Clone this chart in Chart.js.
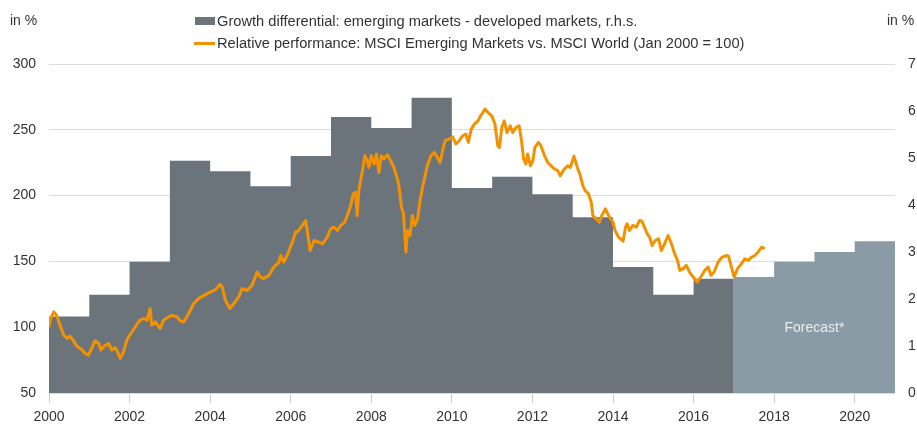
<!DOCTYPE html>
<html>
<head>
<meta charset="utf-8">
<script src="https://cdn.jsdelivr.net/npm/chart.js@4.4.1/dist/chart.umd.min.js"></script>
<style>
  html, body { margin: 0; padding: 0; background: #fff; }
  #wrap { position: relative; width: 917px; height: 426px; overflow: hidden; }
  #c { position: absolute; left: 0; top: 0; }
  .lbl { position: absolute; font-family: "Liberation Sans", Arial, sans-serif; font-size: 14px; color: #333; white-space: nowrap; line-height: 16px; }
  .leg { position: absolute; font-family: "Liberation Sans", Arial, sans-serif; font-size: 14.65px; color: #333; white-space: nowrap; line-height: 16px; }
  .mk { position: absolute; }
</style>
</head>
<body>
<div id="wrap">
  <canvas id="c" width="917" height="426"></canvas>
  <div class="lbl" style="left:10px; top:12px;">in %</div>
  <div class="lbl" style="left:887px; top:12px;">in %</div>
  <div class="mk" style="left:195px; top:17px; width:20px; height:8px; background:#6c747b;"></div>
  <div class="leg" style="left:217px; top:13px;">Growth differential: emerging markets - developed markets, r.h.s.</div>
  <div class="mk" style="left:194px; top:42px; width:21px; height:3px; background:#f39200;"></div>
  <div class="leg" style="left:217px; top:35px;">Relative performance: MSCI Emerging Markets vs. MSCI World (Jan 2000 = 100)</div>
</div>
<script>
// ---- data ----
const growthYears   = [2000,2001,2002,2003,2004,2005,2006,2007,2008,2009,2010,2011,2012,2013,2014,2015,2016];
const growthValues  = [1.63,2.09,2.79,4.94,4.72,4.40,5.04,5.87,5.64,6.28,4.36,4.60,4.23,3.74,2.68,2.09,2.43];
const forecastYears = [2017,2018,2019,2020];
const forecastValues= [2.47,2.79,3.00,3.23];

const perfDates = [
2000.00,2000.04,2000.12,2000.19,2000.26,2000.36,2000.46,2000.52,2000.60,2000.69,
2000.81,2000.90,2000.98,2001.04,2001.14,2001.23,2001.29,2001.37,2001.48,2001.56,
2001.64,2001.70,2001.77,2001.85,2001.93,2002.03,2002.14,2002.26,2002.35,2002.43,
2002.51,2002.55,2002.64,2002.76,2002.84,2002.97,2003.05,2003.18,2003.26,2003.34,
2003.47,2003.59,2003.71,2003.84,2004.00,2004.13,2004.25,2004.30,2004.38,2004.49,
2004.59,2004.71,2004.79,2004.92,2005.04,2005.17,2005.25,2005.33,2005.46,2005.58,
2005.71,2005.75,2005.83,2005.93,2006.04,2006.12,2006.20,2006.29,2006.37,2006.41,
2006.48,2006.58,2006.70,2006.79,2006.91,2006.99,2007.07,2007.16,2007.24,2007.34,
2007.42,2007.49,2007.55,2007.61,2007.65,2007.69,2007.78,2007.84,2007.90,2007.94,
2008.00,2008.07,2008.13,2008.19,2008.25,2008.32,2008.40,2008.48,2008.56,2008.65,
2008.69,2008.75,2008.80,2008.83,2008.86,2008.90,2008.96,2009.02,2009.08,2009.15,
2009.21,2009.29,2009.39,2009.48,2009.56,2009.64,2009.71,2009.77,2009.83,2009.93,
2010.02,2010.10,2010.18,2010.27,2010.35,2010.41,2010.48,2010.56,2010.65,2010.71,
2010.77,2010.82,2010.90,2010.99,2011.07,2011.14,2011.18,2011.24,2011.30,2011.37,
2011.45,2011.51,2011.59,2011.67,2011.73,2011.78,2011.84,2011.88,2011.95,2012.01,
2012.06,2012.15,2012.21,2012.30,2012.38,2012.46,2012.55,2012.63,2012.69,2012.79,
2012.88,2012.94,2013.03,2013.11,2013.19,2013.25,2013.31,2013.39,2013.46,2013.50,
2013.58,2013.66,2013.72,2013.81,2013.87,2013.94,2014.00,2014.05,2014.14,2014.25,
2014.31,2014.35,2014.41,2014.49,2014.58,2014.66,2014.72,2014.78,2014.85,2014.91,
2014.97,2015.05,2015.13,2015.20,2015.28,2015.37,2015.45,2015.53,2015.60,2015.66,
2015.74,2015.82,2015.90,2015.99,2016.09,2016.18,2016.28,2016.36,2016.43,2016.51,
2016.61,2016.71,2016.82,2016.87,2016.94,2017.01,2017.09,2017.19,2017.27,2017.36,
2017.44,2017.52,2017.60,2017.69,2017.77];
const perfValues = [
100.0,106.6,111.6,109.0,102.8,94.0,91.4,93.2,90.0,85.6,
83.0,80.0,78.8,82.6,89.6,88.0,82.6,85.6,87.6,82.6,
84.6,81.3,76.3,81.3,90.0,95.2,100.2,105.3,106.6,105.3,
114.2,101.5,104.0,99.0,105.3,107.8,109.0,107.8,104.8,104.0,
110.4,118.0,121.7,124.0,126.7,128.5,132.6,130.5,120.4,114.2,
118.0,123.0,129.3,128.0,131.8,141.9,138.1,136.9,139.4,145.7,
149.5,154.5,149.5,155.8,164.6,172.2,173.5,177.3,181.1,173.5,
158.3,165.9,164.6,163.4,168.4,174.8,176.0,173.5,177.3,179.8,
186.1,192.4,201.3,202.5,184.8,203.8,218.9,230.3,226.5,221.4,
230.3,224.0,231.6,217.6,230.3,228.0,231.0,226.5,221.4,212.6,
206.3,191.1,186.1,171.0,157.0,173.5,169.7,184.8,177.3,182.3,
196.2,208.9,222.7,230.3,232.8,229.0,225.2,234.1,241.7,242.9,
244.7,239.2,241.7,245.5,246.7,240.4,250.5,254.3,256.8,260.6,
263.1,265.7,263.1,260.6,254.3,237.9,236.6,251.7,256.8,247.9,
253.0,247.9,251.7,253.0,241.7,227.8,224.0,231.6,222.7,226.5,
236.6,240.4,237.9,230.3,225.2,222.7,220.2,218.9,215.0,220.2,
222.7,221.4,230.0,222.0,215.0,207.6,203.8,201.3,194.9,184.8,
182.3,179.8,184.8,189.9,186.1,182.3,179.8,173.5,168.4,165.4,
176.0,178.6,173.5,177.3,176.0,181.1,180.5,176.0,171.0,168.4,
162.1,165.9,167.2,158.3,163.4,169.7,163.4,155.8,150.8,143.2,
144.5,147.0,141.9,138.1,134.3,138.1,143.2,145.7,139.4,141.9,
149.5,153.3,154.5,153.8,145.7,138.1,144.5,148.3,152.0,150.8,
153.3,154.5,157.0,160.8,159.6];

const leftTicks  = [50,100,150,200,250,300];
const rightTicks = [0,1,2,3,4,5,6,7];
const xTickYears = [2000,2002,2004,2006,2008,2010,2012,2014,2016,2018,2020];

// ---- build datasets ----
function steps(years, vals) {
  const pts = years.map((y, i) => ({ x: y, y: vals[i] }));
  pts.push({ x: years[years.length - 1] + 1, y: vals[vals.length - 1] });
  return pts;
}
const perfPts = perfDates.map((d, i) => ({ x: d, y: perfValues[i] }));

const forecastLabel = {
  id: 'forecastLabel',
  afterDatasetsDraw(chart) {
    const { ctx, scales } = chart;
    ctx.save();
    ctx.font = '14px "Liberation Sans", Arial, sans-serif';
    ctx.fillStyle = '#e9edef';
    ctx.textAlign = 'center';
    ctx.textBaseline = 'middle';
    ctx.fillText('Forecast*', scales.x.getPixelForValue(2019), scales.y1.getPixelForValue(1.38));
    ctx.restore();
  }
};

const tickFont = { family: '"Liberation Sans", Arial, sans-serif', size: 14 };

new Chart(document.getElementById('c'), {
  type: 'line',
  data: {
    datasets: [
      { data: perfPts, yAxisID: 'y', borderColor: '#f39200', borderWidth: 3, tension: 0,
        pointRadius: 0, fill: false, borderJoinStyle: 'round', order: 0 },
      { data: steps(growthYears, growthValues), yAxisID: 'y1', stepped: 'before',
        fill: 'origin', backgroundColor: '#6c747b', borderColor: '#6c747b', borderWidth: 0,
        pointRadius: 0, order: 1 },
      { data: steps(forecastYears, forecastValues), yAxisID: 'y1', stepped: 'before',
        fill: 'origin', backgroundColor: '#8a9ba5', borderColor: '#8a9ba5', borderWidth: 0,
        pointRadius: 0, order: 2 }
    ]
  },
  options: {
    responsive: false,
    animation: false,
    layout: { padding: { left: 10, right: 0, top: 64, bottom: 0 } },
    plugins: { legend: { display: false }, tooltip: { enabled: false } },
    scales: {
      x: {
        type: 'linear', min: 2000, max: 2021,
        afterBuildTicks(s) { s.ticks = xTickYears.map(v => ({ value: v })); },
        afterFit(s) { s.height = 33; },
        ticks: { color: '#333', font: tickFont, padding: 6, maxRotation: 0,
                 callback: v => String(v) },
        grid: { drawOnChartArea: false, drawTicks: true, tickLength: 10, color: '#c8cdd0' },
        border: { display: false }
      },
      y: {
        position: 'left', min: 50, max: 300,
        afterBuildTicks(s) { s.ticks = leftTicks.map(v => ({ value: v })); },
        afterFit(s) { s.width = 39; },
        ticks: { color: '#333', font: tickFont, padding: 13 },
        grid: { color: '#dcdcdc', drawTicks: false, lineWidth: 1 },
        border: { display: false }
      },
      y1: {
        position: 'right', min: 0, max: 7,
        afterBuildTicks(s) { s.ticks = rightTicks.map(v => ({ value: v })); },
        afterFit(s) { s.width = 22; },
        ticks: { color: '#333', font: tickFont, padding: 13 },
        grid: { display: false, drawTicks: false },
        border: { display: false }
      }
    }
  },
  plugins: [forecastLabel]
});
</script>
</body>
</html>
